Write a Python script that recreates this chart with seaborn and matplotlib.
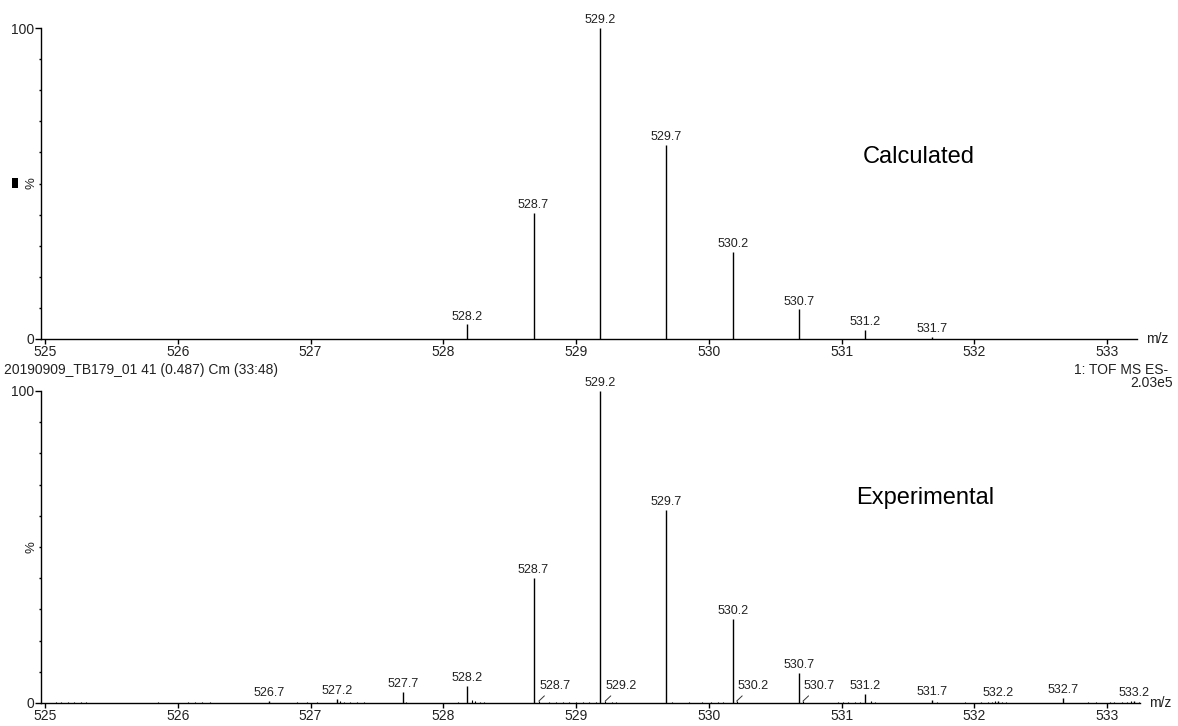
import numpy as np
import pandas as pd
import matplotlib
matplotlib.use("Agg")
import matplotlib.pyplot as plt
from matplotlib.patches import Rectangle
import seaborn as sns

# ---------------- data ----------------
calc_mz = [528.18, 528.68, 529.18, 529.68, 530.18, 530.68, 531.18, 531.68]
calc_int = [4.7, 40.5, 100.0, 62.4, 28.0, 9.5, 2.8, 0.6]

exp_mz = [526.69, 527.20, 527.70, 528.18, 528.68, 529.18, 529.68, 530.18,
          530.68, 531.18, 531.68, 532.18, 532.67, 533.20]
exp_int = [0.7, 1.4, 3.6, 5.4, 40.0, 100.0, 62.0, 27.0,
           9.5, 2.9, 1.1, 0.8, 1.7, 0.7]

# small satellite peaks labelled with leader lines
sat_mz = [528.72, 529.22, 530.21, 530.71]
sat_int = [0.6, 0.6, 0.6, 0.6]

# baseline noise of the experimental spectrum
noise_mz = [525.08, 525.12, 525.17, 525.22, 525.27, 525.31, 525.85,
            526.08, 526.13, 526.18, 526.24, 526.90, 526.97, 527.05,
            527.22, 527.25, 527.30, 527.35, 527.40, 527.72, 528.11,
            528.22, 528.24, 528.28, 528.31, 528.80, 528.85, 528.90,
            528.95, 529.00, 529.05, 529.10, 529.15, 529.27, 529.30,
            529.72, 529.85, 529.95, 530.02, 530.07, 530.11, 530.97,
            531.01, 531.05, 531.10, 531.14, 531.22, 531.25, 531.72,
            531.93, 532.05, 532.10, 532.13, 532.16, 532.21, 532.24,
            532.86, 532.92, 533.02, 533.05, 533.11, 533.15, 533.18,
            533.24]
noise_int = [0.3, 0.3, 0.3, 0.3, 0.3, 0.3, 0.3,
             0.3, 0.3, 0.3, 0.3, 0.3, 0.4, 0.3,
             0.5, 0.4, 0.3, 0.3, 0.3, 0.4, 0.3,
             1.0, 0.8, 0.4, 0.3, 0.3, 0.3, 0.3,
             0.3, 0.3, 0.3, 0.3, 0.3, 0.4, 0.3,
             0.3, 0.3, 0.3, 0.3, 0.3, 0.3, 0.3,
             0.3, 0.3, 0.4, 0.4, 0.5, 0.3, 0.3,
             0.3, 0.3, 0.3, 0.4, 0.5, 0.4, 0.3,
             0.3, 0.3, 0.3, 0.3, 0.3, 0.4, 0.5,
             0.3]

xticks = [525, 526, 527, 528, 529, 530, 531, 532, 533]
header_left = "20190909_TB179_01 41 (0.487) Cm (33:48)"
header_right1 = "1: TOF MS ES-"
header_right2 = "2.03e5"

# ---------------- style ----------------
sns.set_theme(style="ticks")
plt.rcParams["font.family"] = ["Liberation Sans", "DejaVu Sans"]
TXT = "#222222"

W, H = 1178, 726
fig = plt.figure(figsize=(W / 100, H / 100), dpi=100)

def fx(px):
    return px / W

def fy(py):
    return 1 - py / H

PPU = 132.75  # pixels per m/z unit
X0 = 45       # pixel of m/z 525
LEFT = 41

def make_ax(top_px, bot_px, right_px):
    ax = fig.add_axes([fx(LEFT), fy(bot_px), fx(right_px - LEFT), (bot_px - top_px) / H])
    ax.set_xlim(525 - (X0 - LEFT) / PPU, 525 + (right_px - X0) / PPU)
    ax.set_ylim(0, 100)
    sns.despine(ax=ax)
    for s in ["left", "bottom"]:
        ax.spines[s].set_color("black")
        ax.spines[s].set_linewidth(1.0)
    ax.set_xticks(xticks)
    ax.set_xticklabels([str(t) for t in xticks])
    ax.set_yticks([0, 100])
    ax.set_yticklabels(["0", "100"])
    ax.set_yticks(np.arange(10, 100, 10), minor=True)
    ax.tick_params(axis="x", which="major", direction="out", length=3.5, width=1,
                   pad=1, labelsize=10, colors="black", labelcolor=TXT)
    ax.tick_params(axis="y", which="major", direction="out", length=4.5, width=1,
                   pad=0.5, labelsize=10, colors="black", labelcolor=TXT)
    ax.tick_params(axis="y", which="minor", direction="out", length=1.8, width=1,
                   colors="black", left=True)
    ax.set_facecolor("white")
    ax.text(-0.009, 0.5, "%", transform=ax.transAxes, rotation=90,
            ha="center", va="center", fontsize=9.5, color=TXT)
    ax.text(1.008, 0.0, "m/z", transform=ax.transAxes, ha="left", va="center",
            fontsize=10, color=TXT)
    return ax

def main_labels(ax, mz, inten):
    for m, h in zip(mz, inten):
        ax.annotate(f"{m:.1f}", xy=(m, h), xytext=(0, 3.5), textcoords="offset points",
                    ha="center", va="baseline", fontsize=9, color=TXT,
                    annotation_clip=False)

# ---------------- top: calculated ----------------
ax1 = make_ax(28, 339, 1137)
ax1.vlines(calc_mz, 0, calc_int, color="black", lw=1.0)
main_labels(ax1, calc_mz, calc_int)
ax1.text(919 / W, fy(157), "Calculated", transform=fig.transFigure,
         ha="center", va="center", fontsize=17, color="black")

# ---------------- bottom: experimental ----------------
ax2 = make_ax(391, 703, 1140)
ax2.vlines(noise_mz, 0, noise_int, color="black", lw=0.8)
ax2.vlines(exp_mz, 0, exp_int, color="black", lw=1.0)
ax2.vlines(sat_mz, 0, sat_int, color="black", lw=0.8)
main_labels(ax2, exp_mz, exp_int)
for m, h in zip(sat_mz, sat_int):
    ax2.annotate(f"{m:.1f}", xy=(m, h), xytext=(0.5, 9.0), textcoords="offset points",
                 ha="left", va="baseline", fontsize=9, color=TXT,
                 arrowprops=dict(arrowstyle="-", lw=0.7, color="#333333",
                                 relpos=(0.3, 0.0), shrinkA=1, shrinkB=0),
                 annotation_clip=False)
fig.text(925 / W, fy(498), "Experimental", ha="center", va="center",
         fontsize=17, color="black")

# ---------------- header texts ----------------
fig.text(fx(4), fy(370), header_left, ha="left", va="center", fontsize=10, color=TXT)
fig.text(fx(1168), fy(370), header_right1, ha="right", va="center", fontsize=10, color=TXT)
fig.text(fx(1173), fy(383), header_right2, ha="right", va="center", fontsize=10, color=TXT)

# small black marker at the left of the top panel
fig.add_artist(Rectangle((fx(12), fy(188)), 6 / W, 10 / H, transform=fig.transFigure,
                         facecolor="black", edgecolor="none"))

fig.savefig("out.png", dpi=100, facecolor="white")
